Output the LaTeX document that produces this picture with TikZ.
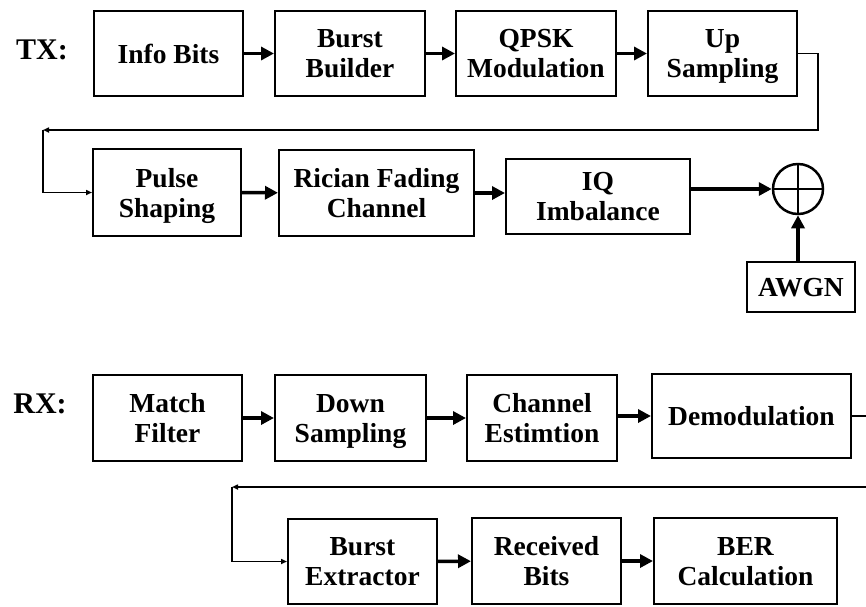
\documentclass[tikz,border=0pt]{standalone}
\usepackage{fontspec}
\setmainfont{Liberation Serif}
\usetikzlibrary{arrows.meta}
\begin{document}
\begin{tikzpicture}[x=1pt,y=-1pt,
  box/.style={draw, line width=2pt, align=center, inner sep=0pt, text depth=0pt,
    font=\bfseries\fontsize{27.5}{30}\selectfont},
  lbl/.style={inner sep=0pt, font=\bfseries\fontsize{30}{32}\selectfont},
  flow/.style={line width=3.5pt, -{Triangle[length=13pt,width=13pt]}},
  wrap/.style={line width=1.6pt, -{Triangle[length=6pt,width=5pt]}},
  sumnode/.style={circle, draw, line width=2.5pt, minimum size=50pt, inner sep=0pt}]
\useasboundingbox (0,0) rectangle (866,606);
\clip (0,0) rectangle (866,606);

% ---- transmitter ----
\node[lbl] (tx) at (42,50) {TX:};
\node[box, minimum width=149pt, minimum height=85pt] (info)  at (168.5,53.5) {Info Bits};
\node[box, minimum width=150pt, minimum height=85pt] (burst) at (350,53.5) {Burst\\Builder};
\node[box, minimum width=160pt, minimum height=85pt] (qpsk)  at (536,53.5) {QPSK\\Modulation};
\node[box, minimum width=149pt, minimum height=85pt] (up)    at (722.5,53.5) {Up\\Sampling};

\node[box, minimum width=148pt, minimum height=87pt] (pulse)  at (167,192.5) {Pulse\\Shaping};
\node[box, minimum width=195pt, minimum height=86pt] (rician) at (376.5,193) {Rician Fading\\Channel};
\node[box, minimum width=184pt, minimum height=75pt] (iq)     at (598,196.5) {IQ\\Imbalance};
\node[sumnode] (sum) at (798,189) {};
\draw[line width=2.5pt] (sum.north) -- (sum.south) (sum.west) -- (sum.east);
\node[box, minimum width=108pt, minimum height=50pt] (awgn) at (801,287) {AWGN};

\draw[flow] (info) -- (burst);
\draw[flow] (burst) -- (qpsk);
\draw[flow] (qpsk) -- (up);
\draw[flow] (pulse) -- (rician);
\draw[flow] (rician.east) -- (rician.east -| iq.west);
\draw[flow, line width=4pt] (iq.east |- sum.west) -- (sum.west);
\draw[flow] (awgn.north -| sum.south) -- (sum.south);

\coordinate (t1) at (818,130);
\coordinate (t2) at (43,130);
\draw[wrap] (up.east) -| (t1) -- (t2);
\draw[wrap] (t2) |- (pulse.west);

% ---- receiver ----
\node[lbl] (rx) at (40,404) {RX:};
\node[box, minimum width=149pt, minimum height=86pt] (match) at (167.5,418) {Match\\Filter};
\node[box, minimum width=151pt, minimum height=86pt] (down)  at (350.5,418) {Down\\Sampling};
\node[box, minimum width=150pt, minimum height=86pt] (chest) at (542,418) {Channel\\Estimtion};
\node[box, minimum width=199pt, minimum height=84pt] (demod) at (751.5,416) {Demodulation};

\node[box, minimum width=149pt, minimum height=85pt] (bext)  at (362.5,561.5) {Burst\\Extractor};
\node[box, minimum width=149pt, minimum height=86pt] (rbits) at (546.5,561) {Received\\Bits};
\node[box, minimum width=183pt, minimum height=86pt] (ber)   at (745.5,561) {BER\\Calculation};

\draw[flow] (match) -- (down);
\draw[flow] (down) -- (chest);
\draw[flow] (chest.east |- demod.west) -- (demod.west);
\draw[flow] (bext) -- (rbits);
\draw[flow] (rbits) -- (ber);

\coordinate (r1) at (880,487);
\coordinate (r2) at (232,487);
\draw[wrap] (demod.east) -| (r1) -- (r2);
\draw[wrap] (r2) |- (bext.west);
\end{tikzpicture}
\end{document}
